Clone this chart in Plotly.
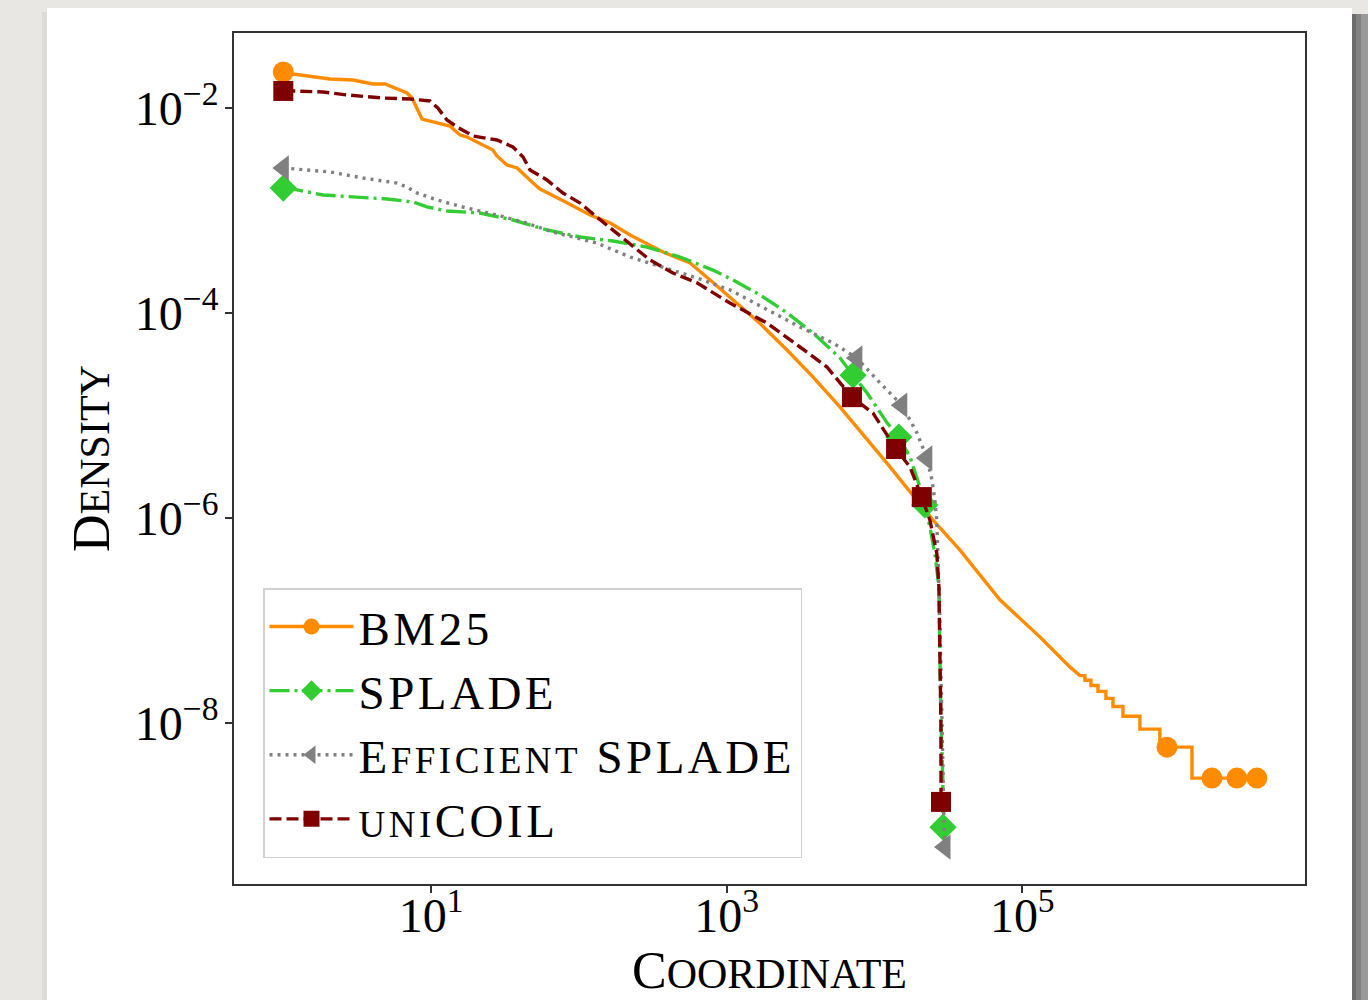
import plotly.graph_objects as go

# ---------------- data ----------------
bm25_x = [1, 1.16, 2.07, 2.96, 4.05, 4.88, 6.87, 7.43, 8.68, 13.4, 15.7, 17.5, 26.2, 27.9,
          32.6, 38.2, 49.0, 54.6, 78.2, 102, 119, 163, 222, 371, 565, 772, 1055, 1675,
          2550, 3830, 5830, 12100, 24800, 37800, 70600, 131500, 210000, 245600, 265400,
          265400, 291500, 291500, 325300, 325300, 368000, 368000, 411000, 411000, 480000,
          480000, 625000, 625000, 853000, 853000, 953000, 1406000, 1406000, 1920000,
          2830000, 3870000]
bm25_y = [0.0226, 0.0216, 0.0193, 0.0189, 0.01726, 0.01726, 0.0141, 0.0126, 0.00785, 0.00672,
          0.0055, 0.00525, 0.00392, 0.00343, 0.0028, 0.00262, 0.00187, 0.00163, 0.00125,
          0.00102, 0.00091, 0.00076, 0.00058, 0.000396, 0.00031, 0.000211, 0.000144, 7.98e-5,
          4.41e-5, 2.4e-5, 1.22e-5, 3.47e-6, 9.66e-7, 4.92e-7, 1.6e-7, 6.97e-8, 3.55e-8,
          2.92e-8, 2.92e-8, 2.63e-8, 2.63e-8, 2.34e-8, 2.34e-8, 2.05e-8, 2.05e-8, 1.75e-8,
          1.75e-8, 1.46e-8, 1.46e-8, 1.17e-8, 1.17e-8, 8.77e-9, 8.77e-9, 5.85e-9, 5.85e-9,
          5.85e-9, 2.92e-9, 2.92e-9, 2.92e-9, 2.92e-9]
bm25_marks = [0, 54, 57, 58, 59]

splade_x = [1, 1.24, 1.86, 3.46, 5.03, 7.54, 9.38, 12.8, 21.4, 35.8, 60.8, 102, 170, 289, 483,
            807, 1104, 1683, 2563, 3846, 5850, 7160, 8910, 12200, 14600, 17400, 20300, 21900,
            23700, 25600, 27300, 27700, 28150, 29000, 29100]
splade_y = [0.001667, 0.0016, 0.001426, 0.001334, 0.001303, 0.001219, 0.00109, 0.000996,
            0.000951, 0.000813, 0.00065, 0.000555, 0.000507, 0.000443, 0.000354, 0.000264,
            0.000211, 0.000151, 0.000101, 6.41e-5, 3.66e-5, 2.49e-5, 1.67e-5, 8.49e-6, 6.2e-6,
            3.96e-6, 2.02e-6, 1.35e-6, 8.22e-7, 4.58e-7, 2.13e-7, 4.84e-8, 1.07e-8, 2.82e-9,
            9.7e-10]
splade_marks = [0, 21, 24, 27, 34]

eff_x = [1, 1.36, 2.07, 3.46, 5.88, 6.87, 8.03, 11.0, 16.4, 27.9, 41.9, 66.8, 132, 222, 371,
         630, 1052, 1873, 3130, 5240, 7600, 10900, 15300, 19400, 22600, 24500, 25600, 26400,
         26800, 27700, 28600, 29000, 29500, 30000]
eff_y = [0.002617, 0.0025, 0.002393, 0.002089, 0.001866, 0.001706, 0.001493, 0.001274,
         0.001089, 0.00091, 0.000778, 0.000621, 0.000485, 0.000354, 0.000283, 0.000221,
         0.000169, 0.000108, 7.35e-5, 5.13e-5, 3.66e-5, 2.09e-5, 1.27e-5, 6.79e-6, 3.87e-6,
         2.36e-6, 1.51e-6, 9.62e-7, 4.58e-7, 1.02e-7, 1.07e-8, 2.4e-9, 1.14e-9, 6.2e-10]
eff_marks = [0, 20, 22, 24, 33]

unicoil_x = [1, 1.16, 1.86, 2.70, 4.73, 7.2, 9.83, 11.1, 12.8, 15.0, 19.2, 27.9, 35.8, 41.9,
             46.7, 60.8, 78.0, 102, 132, 170, 222, 303, 433, 630, 1052, 1873, 3130, 4770,
             7040, 9780, 14000, 17400, 20900, 23700, 26400, 27300, 27700, 28150, 28200]
unicoil_y = [0.01476, 0.01476, 0.01442, 0.01349, 0.01259, 0.01233, 0.01178, 0.01007, 0.00769,
             0.00658, 0.00537, 0.00491, 0.00419, 0.00335, 0.0025, 0.002, 0.00149, 0.00119,
             0.00087, 0.00065, 0.000485, 0.000331, 0.000247, 0.000198, 0.000126, 8.03e-5,
             4.69e-5, 2.99e-5, 1.52e-5, 1.06e-5, 4.74e-6, 3.16e-6, 1.61e-6, 9.62e-7, 4.58e-7,
             2.13e-7, 4.84e-8, 1.07e-8, 1.71e-9]
unicoil_marks = [0, 28, 30, 32, 38]

SC = "<span style='font-size:37px'>{}</span>"  # small-caps imitation
series_names = [
    "BM25",
    "SPLADE",
    "E" + SC.format("FFICIENT") + " SPLADE",
    SC.format("UNI") + "COIL",
]
x_tickvals = [10, 1000, 100000]
x_ticktext = ["10<sup>1</sup>", "10<sup>3</sup>", "10<sup>5</sup>"]
y_tickvals = [1e-2, 1e-4, 1e-6, 1e-8]
y_ticktext = ["10<sup>\u22122</sup>", "10<sup>\u22124</sup>", "10<sup>\u22126</sup>", "10<sup>\u22128</sup>"]
x_title = "C<span style='font-size:42px'>OORDINATE</span>"
y_title = "D<span style='font-size:42px'>ENSITY</span>"

# ---------------- styling ----------------
styles = [
    dict(color="#ff8c00", dash="solid", symbol="circle", size=21),
    dict(color="#32cd32", dash="20px,5px,3px,5px", symbol="diamond", size=21),
    dict(color="#808080", dash="3px,5px", symbol="triangle-left", size=22),
    dict(color="#7f0000", dash="12px,5px", symbol="square", size=20),
]
data = [
    (bm25_x, bm25_y, bm25_marks),
    (splade_x, splade_y, splade_marks),
    (eff_x, eff_y, eff_marks),
    (unicoil_x, unicoil_y, unicoil_marks),
]

fig = go.Figure()
for (xs, ys, marks), name, st in zip(data, series_names, styles):
    fig.add_trace(go.Scatter(
        x=xs, y=ys, name="<span style='letter-spacing:3.5px'>" + name + "</span>",
        mode="lines+markers",
        line=dict(color=st["color"], width=3.4, dash=st["dash"]),
        marker=dict(color=st["color"], symbol=st["symbol"], size=st["size"], line=dict(width=0)),
        selectedpoints=marks,
        selected=dict(marker=dict(opacity=1)),
        unselected=dict(marker=dict(opacity=0)),
        hoverinfo="skip",
    ))

# plot area in pixels: x 234..1305, y 33..884
L, R, T, B = 234, 63, 33, 116
W, H = 1368, 1000
pw, ph = W - L - R, H - T - B

def px(xp):
    return (xp - L) / pw

def py(yp):
    return (H - B - yp) / ph

shapes = []
# card shadow on the right
for x0, x1, c in [(1352, 1356, "#6c6c6c"), (1356, 1361, "#828282"), (1361, 1368, "#9a9a9a")]:
    shapes.append(dict(type="rect", xref="paper", yref="paper", x0=px(x0), x1=px(x1),
                       y0=py(1010), y1=py(14), fillcolor=c, line=dict(width=0), layer="below"))
# faint shadow at the card's left edge
shapes.append(dict(type="rect", xref="paper", yref="paper", x0=px(42), x1=px(47),
                   y0=py(1010), y1=py(12), fillcolor="#dcdbd8", line=dict(width=0), layer="below"))
# white card
shapes.append(dict(type="rect", xref="paper", yref="paper", x0=px(47), x1=px(1352),
                   y0=py(1010), y1=py(8), fillcolor="white", line=dict(width=0), layer="below"))

axis_common = dict(
    type="log", showgrid=False, zeroline=False, showline=True, mirror=True, automargin=False,
    linecolor="#333333", linewidth=1.6, ticks="outside", ticklen=7, tickwidth=1.5,
    tickcolor="#333333", tickfont=dict(size=48, color="black", family="Liberation Serif"),
)

fig.update_layout(
    width=W, height=H,
    margin=dict(l=L, r=R, t=T, b=B, pad=0, autoexpand=False),
    paper_bgcolor="#e8e7e4", plot_bgcolor="white",
    font=dict(family="Liberation Serif", color="black"),
    shapes=shapes,
    xaxis=dict(axis_common, range=[-0.3336, 6.913], tickvals=x_tickvals, ticktext=x_ticktext,
               ticklabelstandoff=-18,
               title=dict(text=x_title, font=dict(size=52), standoff=5)),
    yaxis=dict(axis_common, range=[-9.568, -1.2654], tickvals=y_tickvals, ticktext=y_ticktext,
               ticklabelstandoff=-3,
               title=dict(text=y_title, font=dict(size=52), standoff=9)),
    showlegend=True,
    legend=dict(x=px(263), y=py(588), xanchor="left", yanchor="top",
                bgcolor="rgba(255,255,255,0.9)", bordercolor="#d0d0d0", borderwidth=1.5,
                font=dict(size=47, color="black"), itemwidth=84, tracegroupgap=0),
)

fig.write_html(
    "out.html",
    config={"displayModeBar": False},
    post_script="document.body.style.margin='0px';document.body.style.background='#e8e7e4';",
)
